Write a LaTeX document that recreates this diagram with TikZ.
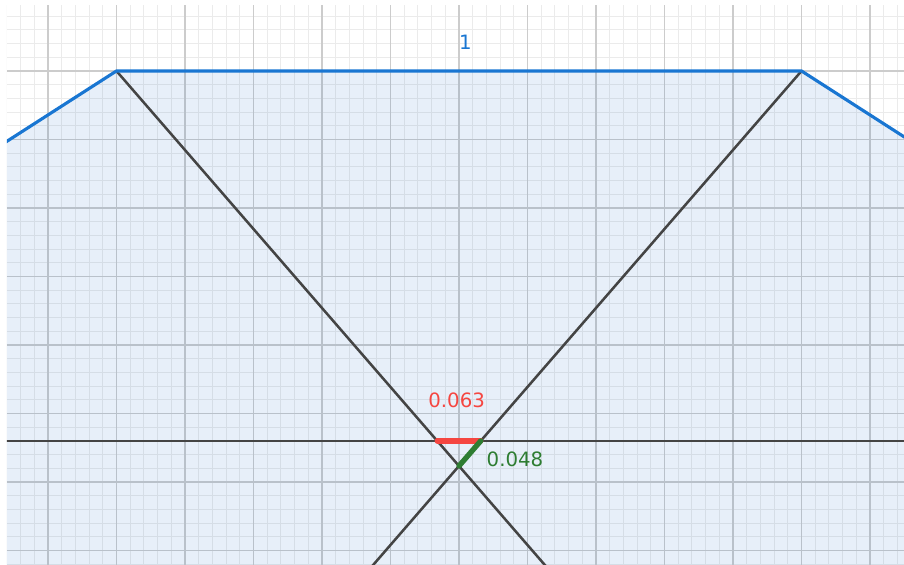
\documentclass[tikz,border=0pt]{standalone}
\usepackage{fontspec}
\setmainfont{DejaVu Sans}
\usetikzlibrary{calc}
\definecolor{ggblue}{RGB}{25,118,210}
\definecolor{ggline}{RGB}{68,68,68}
\definecolor{ggred}{RGB}{245,70,65}
\definecolor{gggreen}{RGB}{46,125,50}
\definecolor{ggfill}{RGB}{21,101,192}

\begin{document}
\begin{tikzpicture}[every node/.style={font=\fontsize{8.2}{10}\selectfont}]
  \def \minx {-6.6}
  \def \maxx {6.5}
  \def \miny {-2.2}
  \def \maxy {5.95}

  \useasboundingbox (-6.70,-2.197) rectangle (6.496,6.036);
  \clip (\minx,\miny) rectangle (\maxx,\maxy);

  \coordinate (A) at (-5,5);
  \coordinate (B) at (5,5);
  \coordinate (X) at (0,-0.766);
  \coordinate (Ao) at (-7,3.716);
  \coordinate (Bo) at (7,3.716);
  \coordinate (W) at (-7,-0.4);
  \coordinate (E) at (7,-0.4);
  \coordinate (Aend) at ($(A)!1.4!(X)$);
  \coordinate (Bend) at ($(B)!1.4!(X)$);
  \coordinate (P) at (intersection of A--X and W--E);
  \coordinate (Q) at (intersection of B--X and W--E);

  \draw[line width=0.4pt,black!8] (\minx,\miny-0.1) grid[step=0.2] (\maxx+0.1,\maxy+0.1);
  \draw[line width=0.6pt,black!20] (\minx,\miny-0.1) grid[step=1] (\maxx+0.1,\maxy+0.1);

  \fill[ggfill,opacity=0.1] (Ao) -- (A) -- (B) -- (Bo) -- (7,-2.5) -- (-7,-2.5) -- cycle;

  \draw[ggline,line width=1.05pt] (W) -- (E);
  \draw[ggline,line width=1.05pt] (A) -- (Aend);
  \draw[ggline,line width=1.05pt] (B) -- (Bend);

  \draw[ggblue,line width=1.3pt,line join=round] (Ao) -- (A) -- (B) -- (Bo);

  \draw[ggred,line width=2.2pt,line cap=round] (P) -- (Q);
  \draw[gggreen,line width=2.2pt,line cap=round] (Q) -- (X);

  \node[ggblue] (lenAB) at (0.095,5.415) {1};
  \node[ggred] (lenPQ) at (-0.034,0.187) {0.063};
  \node[gggreen] (lenQX) at (0.817,-0.674) {0.048};
\end{tikzpicture}
\end{document}
